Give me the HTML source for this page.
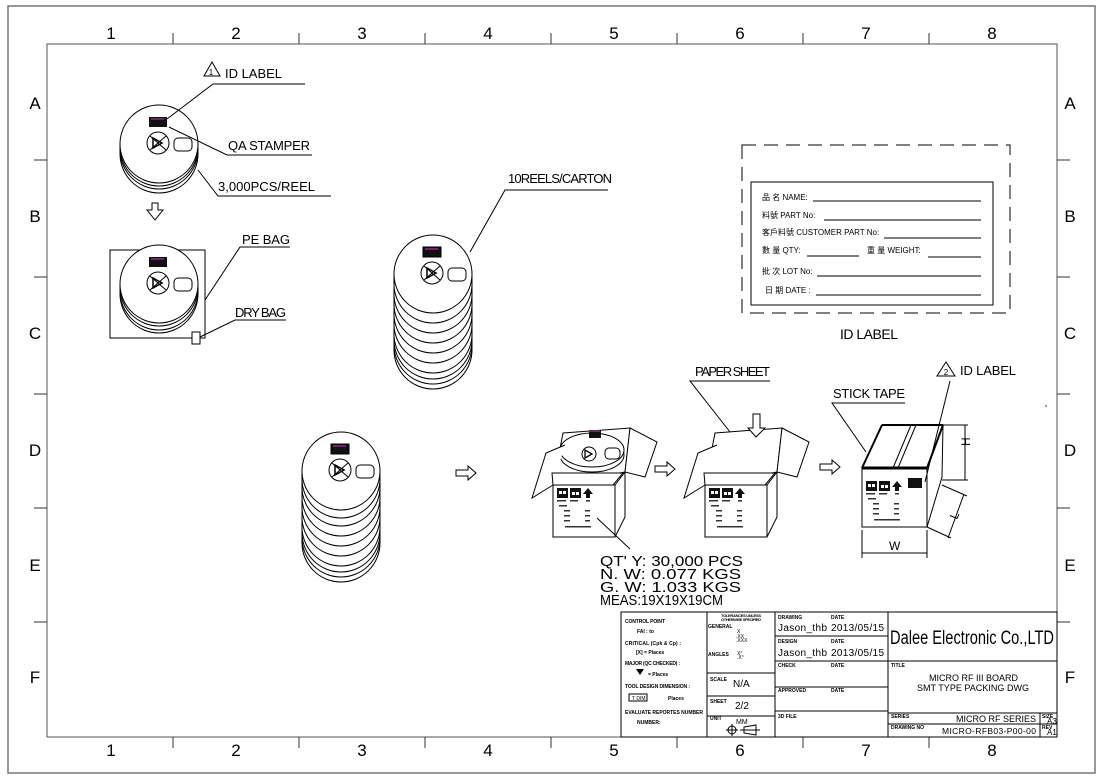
<!DOCTYPE html>
<html><head><meta charset="utf-8"><style>
html,body{margin:0;padding:0;background:#fff;}
svg{display:block;}
text{font-family:"Liberation Sans",sans-serif;fill:#000;}
.cjk{font-family:"Liberation Serif","Noto Serif CJK SC",serif;}
</style></head><body>
<svg width="1103" height="780" viewBox="0 0 1103 780" xmlns="http://www.w3.org/2000/svg">
<defs>
<g id="reeltop">
  <circle cx="0" cy="0" r="39" fill="#fff" stroke="#000" stroke-width="1"/>
  <rect x="-10" y="-27" width="18" height="10" fill="#111"/>
  <line x1="-8" y1="-25" x2="5" y2="-25" stroke="#c3c" stroke-width="1"/>
  <circle cx="-1" cy="-1" r="11" fill="none" stroke="#000"/>
  <line x1="-9" y1="-8" x2="7" y2="6" stroke="#000"/>
  <line x1="-9" y1="6" x2="7" y2="-8" stroke="#000"/>
  <path d="M-6,-6 L-6,4 L3,-1 Z" fill="none" stroke="#000" stroke-width="1.5"/>
  <rect x="15" y="-6" width="18" height="13" rx="4" fill="none" stroke="#000"/>
</g>
<g id="arcs">
  <path d="M-39,0 A39,39 0 0 0 39,0" fill="none" stroke="#000"/>
</g>
<g id="rarrow"><path d="M0,-3 L12,-3 L12,-7 L20,0 L12,7 L12,3 L0,3 Z" fill="#fff" stroke="#000"/></g>
<g id="boxfront">
  <rect x="2" y="3" width="11" height="10" fill="#111"/>
  <rect x="15" y="3" width="11" height="10" fill="#111"/>
  <path d="M28,9 L33,3 L38,9 L35,9 L35,13 L31,13 L31,9 Z" fill="#111"/>
  <rect x="4" y="6" width="3" height="3" fill="#fff"/><rect x="8" y="6" width="3" height="3" fill="#fff"/>
  <rect x="17" y="7" width="3" height="3" fill="#fff"/><rect x="21" y="7" width="3" height="3" fill="#fff"/>
  <g fill="#333"><rect x="2" y="15" width="9" height="1.5"/><rect x="15" y="15" width="8" height="1.5"/><rect x="31" y="15" width="4" height="1.5"/>
  <rect x="4" y="20" width="8" height="1.5"/><rect x="9" y="25" width="6" height="1.5"/><rect x="30" y="25" width="5" height="1.5"/>
  <rect x="9" y="30" width="6" height="1.5"/><rect x="30" y="30" width="5" height="1.5"/>
  <rect x="9" y="35" width="6" height="1.5"/><rect x="30" y="35" width="5" height="1.5"/>
  <rect x="10" y="41" width="26" height="1.5"/></g>
</g>
</defs>

<rect x="8" y="6" width="1087" height="767" fill="none" stroke="#777" stroke-width="1.5"/>
<rect x="47" y="44" width="1010" height="693" fill="none" stroke="#555" stroke-width="1"/>
<g stroke="#333">
<line x1="173" y1="33" x2="173" y2="44"/><line x1="299" y1="33" x2="299" y2="44"/><line x1="425" y1="33" x2="425" y2="44"/><line x1="551" y1="33" x2="551" y2="44"/><line x1="677" y1="33" x2="677" y2="44"/><line x1="803" y1="33" x2="803" y2="44"/><line x1="929" y1="33" x2="929" y2="44"/>
<line x1="173" y1="737" x2="173" y2="748"/><line x1="299" y1="737" x2="299" y2="748"/><line x1="425" y1="737" x2="425" y2="748"/><line x1="551" y1="737" x2="551" y2="748"/><line x1="677" y1="737" x2="677" y2="748"/><line x1="803" y1="737" x2="803" y2="748"/><line x1="929" y1="737" x2="929" y2="748"/>
<line x1="34" y1="160" x2="47" y2="160"/><line x1="34" y1="277" x2="47" y2="277"/><line x1="34" y1="394" x2="47" y2="394"/><line x1="34" y1="508" x2="47" y2="508"/><line x1="34" y1="622" x2="47" y2="622"/>
<line x1="1057" y1="160" x2="1070" y2="160"/><line x1="1057" y1="277" x2="1070" y2="277"/><line x1="1057" y1="394" x2="1070" y2="394"/><line x1="1057" y1="508" x2="1070" y2="508"/><line x1="1057" y1="622" x2="1070" y2="622"/>
</g>
<g font-size="17" text-anchor="middle">
<text x="111" y="39">1</text><text x="236" y="39">2</text><text x="362" y="39">3</text><text x="488" y="39">4</text><text x="614" y="39">5</text><text x="740" y="39">6</text><text x="866" y="39">7</text><text x="992" y="39">8</text>
<text x="111" y="756">1</text><text x="236" y="756">2</text><text x="362" y="756">3</text><text x="488" y="756">4</text><text x="614" y="756">5</text><text x="740" y="756">6</text><text x="866" y="756">7</text><text x="992" y="756">8</text>
<text x="35" y="109">A</text><text x="35" y="222">B</text><text x="35" y="339">C</text><text x="35" y="456">D</text><text x="35" y="571">E</text><text x="35" y="683">F</text>
<text x="1070" y="109">A</text><text x="1070" y="222">B</text><text x="1070" y="339">C</text><text x="1070" y="456">D</text><text x="1070" y="571">E</text><text x="1070" y="683">F</text>
</g>

<g transform="translate(159,144)">
 <use href="#arcs" y="3"/><use href="#arcs" y="6"/><use href="#arcs" y="10"/>
 <line x1="-39" y1="0" x2="-39" y2="10" stroke="#000"/><line x1="39" y1="0" x2="39" y2="10" stroke="#000"/>
 <use href="#reeltop"/>
</g>
<g stroke="#000" fill="none">
<path d="M305,84 L213,84 L167,119"/><path d="M312,155 L227,155 L169,127"/><path d="M331,196 L218,196 L198,170"/>
<path d="M152,203 L152,210 L147,210 L155,220 L163,210 L158,210 L158,203 Z" fill="#fff"/>
</g>
<path d="M212,62 L220,76 L204,76 Z" fill="none" stroke="#000"/><text x="211" y="75" font-size="8" text-anchor="middle">1</text>
<text x="225" y="78" font-size="13" textLength="57">ID  LABEL</text>
<text x="228" y="150" font-size="13" textLength="82">QA  STAMPER</text>
<text x="218" y="191" font-size="13" textLength="97">3,000PCS/REEL</text>

<rect x="110" y="250" width="95" height="88" fill="none" stroke="#000"/>
<g transform="translate(159,284)">
 <use href="#arcs" y="3"/><use href="#arcs" y="7"/><use href="#arcs" y="10"/>
 <line x1="-39" y1="0" x2="-39" y2="10" stroke="#000"/><line x1="39" y1="0" x2="39" y2="10" stroke="#000"/>
 <use href="#reeltop"/>
</g>
<rect x="192" y="332" width="8" height="12" fill="#fff" stroke="#000"/>
<path d="M290,247 L240,247 L205,300" fill="none" stroke="#000"/>
<path d="M286,320 L235,320 L200,337" fill="none" stroke="#000"/>
<text x="242" y="244" font-size="13" textLength="48">PE  BAG</text>
<text x="235" y="317" font-size="13" textLength="51">DRY  BAG</text>

<g transform="translate(433,274)" stroke="#000">
 <use href="#arcs" y="10"/><use href="#arcs" y="20"/><use href="#arcs" y="30"/><use href="#arcs" y="40"/><use href="#arcs" y="50"/><use href="#arcs" y="60"/><use href="#arcs" y="66"/><use href="#arcs" y="71"/><use href="#arcs" y="76"/>
 <line x1="-39" y1="0" x2="-39" y2="76"/><line x1="39" y1="0" x2="39" y2="76"/>
 <use href="#reeltop"/>
</g>
<path d="M608,190 L505,190 L470,252" fill="none" stroke="#000"/>
<text x="508" y="183" font-size="13" textLength="104">10REELS/CARTON</text>

<g transform="translate(341,471)" stroke="#000">
 <use href="#arcs" y="8"/><use href="#arcs" y="16"/><use href="#arcs" y="26"/><use href="#arcs" y="36"/><use href="#arcs" y="46"/><use href="#arcs" y="56"/><use href="#arcs" y="62"/><use href="#arcs" y="67"/><use href="#arcs" y="72"/>
 <line x1="-39" y1="0" x2="-39" y2="72"/><line x1="39" y1="0" x2="39" y2="72"/>
 <use href="#reeltop"/>
</g>
<use href="#rarrow" x="456" y="473"/>

<g fill="#fff" stroke="#000" stroke-width="1">
 <path d="M563,433 L630,428 L625,472 L553,485 Z"/>
 <path d="M630,428 L657,442 L645,477 L625,472 Z"/>
 <ellipse cx="592" cy="455" rx="32" ry="17"/>
 <ellipse cx="592" cy="450" rx="32" ry="17"/>
 <path d="M553,485 L532,498 L546,453 L565,445"/>
 <path d="M552,473 L623,473 L613,485 L553,485 Z"/>
 <rect x="553" y="485" width="62" height="52"/>
 <path d="M615,485 L625,472 L625,517 L615,537 Z"/>
</g>
<rect x="589" y="430" width="12" height="8" fill="#111"/><line x1="589" y1="431" x2="600" y2="431" stroke="#c3c"/>
<circle cx="589" cy="454" r="7" fill="none" stroke="#000"/><path d="M585,450 L585,458 L592,454 Z" fill="none" stroke="#000" stroke-width="1.3"/>
<rect x="605" y="448" width="15" height="11" rx="4" fill="none" stroke="#000"/>
<use href="#boxfront" x="555" y="485"/>
<path d="M597,518 L630,549" stroke="#000"/>
<use href="#rarrow" x="655" y="469"/>

<g fill="#fff" stroke="#000">
 <path d="M715,433 L782,428 L777,472 L705,485 Z"/>
 <path d="M782,428 L809,442 L797,477 L777,472 Z"/>
 <path d="M705,485 L684,498 L698,453 L717,445"/>
 <path d="M704,473 L775,473 L765,485 L705,485 Z"/>
 <rect x="705" y="485" width="62" height="52"/>
 <path d="M767,485 L777,472 L777,517 L767,537 Z"/>
 <path d="M753,414 L760,414 L760,428 L765,428 L756,437 L748,428 L753,428 Z"/>
</g>
<use href="#boxfront" x="707" y="485"/>
<path d="M770,381 L690,381 L730,432" fill="none" stroke="#000"/>
<text x="695" y="376" font-size="13" textLength="75">PAPER  SHEET</text>
<use href="#rarrow" x="820" y="467"/>

<g fill="#fff" stroke="#000">
 <path d="M882,425 L943,425 L927,468 L862,468 Z"/>
 <path d="M927,468 L943,425 L942,477 L927,527 Z"/>
 <rect x="862" y="468" width="65" height="59"/>
</g>
<g stroke="#000" fill="none">
 <path d="M911,425 L893,468 M916,425 L898,468"/>
 <path d="M862,468 L927,468" stroke-width="3"/>
 <path d="M882,425 L862,468" stroke-width="2"/><path d="M943,425 L927,468" stroke-width="2"/>
 <path d="M882,425 L943,425" stroke-width="2"/>
</g>
<rect x="908" y="478" width="14" height="10" fill="#111"/>
<use href="#boxfront" x="864" y="478"/>
<g stroke="#000" fill="none">
 <path d="M943,425 L968,425 M942,480 L968,480 M965,425 L965,480"/>
 <path d="M862,530 L862,558 M927,530 L927,558 M862,553 L927,553"/>
 <path d="M942,485 L967,496 M927,527 L951,538 M964,494 L948,538"/>
 <path d="M905,403 L832,403 L866,452"/>
 <path d="M950,381 L925,482"/>
</g>
<text x="0" y="0" font-size="12" transform="translate(970,446) rotate(-90)">H</text>
<text x="0" y="0" font-size="12" transform="translate(957,520) rotate(-68)">L</text>
<text x="889" y="550" font-size="12">W</text>
<text x="833" y="398" font-size="13" textLength="72">STICK  TAPE</text>
<path d="M946,362 L955,376 L937,376 Z" fill="none" stroke="#000"/><text x="946" y="375" font-size="8" text-anchor="middle">2</text>
<text x="960" y="375" font-size="13" textLength="56">ID  LABEL</text>
<circle cx="1046" cy="406" r="0.7" fill="#000"/>

<g font-size="15">
<text x="600" y="566" textLength="143" lengthAdjust="spacingAndGlyphs">QT' Y:  30,000  PCS</text>
<text x="600" y="579" textLength="141" lengthAdjust="spacingAndGlyphs">N.  W:     0.077  KGS</text>
<text x="600" y="592" textLength="141" lengthAdjust="spacingAndGlyphs">G.  W:     1.033  KGS</text>
<text x="600" y="605" textLength="123" lengthAdjust="spacingAndGlyphs">MEAS:19X19X19CM</text>
</g>

<rect x="742" y="145" width="268" height="168" fill="none" stroke="#000" stroke-dasharray="14,8"/>
<rect x="751" y="182" width="242" height="123" fill="none" stroke="#000"/>
<g class="cjk" font-size="8" fill="#333">
<text x="762" y="200">品 名 NAME:</text>
<text x="762" y="218">料號 PART No:</text>
<text x="762" y="235">客戶料號 CUSTOMER PART No:</text>
<text x="762" y="253">數 量 QTY:</text>
<text x="867" y="253">重 量 WEIGHT:</text>
<text x="762" y="274">批 次 LOT No:</text>
<text x="765" y="293">日 期 DATE :</text>
</g>
<g stroke="#000">
<line x1="813" y1="201" x2="981" y2="201"/><line x1="824" y1="220" x2="981" y2="220"/>
<line x1="884" y1="238" x2="981" y2="238"/><line x1="807" y1="256" x2="859" y2="256"/>
<line x1="928" y1="257" x2="981" y2="257"/><line x1="817" y1="276" x2="981" y2="276"/>
<line x1="816" y1="295" x2="981" y2="295"/>
</g>
<text x="840" y="339" font-size="14" textLength="58">ID  LABEL</text>

<g stroke="#000" fill="none">
<rect x="621" y="612" width="436" height="125"/>
<line x1="707" y1="612" x2="707" y2="737"/><line x1="775" y1="612" x2="775" y2="737"/><line x1="888" y1="612" x2="888" y2="737"/>
<line x1="775" y1="636" x2="888" y2="636"/><line x1="775" y1="661" x2="888" y2="661"/><line x1="775" y1="687" x2="888" y2="687"/><line x1="775" y1="711" x2="888" y2="711"/>
<line x1="707" y1="673" x2="775" y2="673"/><line x1="707" y1="696" x2="775" y2="696"/><line x1="707" y1="716" x2="775" y2="716"/>
<line x1="888" y1="661" x2="1057" y2="661"/><line x1="888" y1="713" x2="1057" y2="713"/><line x1="888" y1="724" x2="1057" y2="724"/>
<line x1="1040" y1="713" x2="1040" y2="737"/>
</g>
<g font-size="5" font-weight="bold">
<text x="625" y="623" textLength="40">CONTROL  POINT</text>
<text x="637" y="633">FAI :        to</text>
<text x="625" y="645" textLength="56">CRITICAL (Cpk &amp; Cp) :</text>
<text x="636" y="654">[X] =             Places</text>
<text x="625" y="665" textLength="55">MAJOR (QC CHECKED) :</text>
<text x="648" y="676">=             Places</text>
<text x="625" y="688" textLength="65">TOOL DESIGN DIMENSION :</text>
<text x="668" y="700">Places</text>
<text x="625" y="714" textLength="78">EVALUATE REPORTES NUMBER</text>
<text x="637" y="724">NUMBER:</text>
<text x="721" y="617" textLength="40" font-size="4">TOLERANCES UNLESS</text>
<text x="721" y="621" textLength="40" font-size="4">OTHERWISE SPECIFIED</text>
<text x="708" y="628">GENERAL</text>
<text x="708" y="656">ANGLES</text>
<text x="710" y="681">SCALE</text><text x="710" y="703">SHEET</text><text x="710" y="720">UNIT</text>
<text x="778" y="619">DRAWING</text><text x="831" y="619">DATE</text>
<text x="778" y="643">DESIGN</text><text x="831" y="643">DATE</text>
<text x="778" y="667">CHECK</text><text x="831" y="667">DATE</text>
<text x="778" y="692">APPROVED</text><text x="831" y="692">DATE</text>
<text x="778" y="718">3D FILE</text>
<text x="891" y="667">TITLE</text>
<text x="891" y="718">SERIES</text><text x="891" y="729">DRAWING NO</text>
<text x="1042" y="718">SIZE</text><text x="1042" y="729">REV</text>
</g>
<path d="M636,669 L644,669 L640,675 Z" fill="#000"/>
<rect x="629" y="694" width="18" height="7" fill="none" stroke="#000"/><text x="632" y="700" font-size="5">T DIM</text>
<g font-size="5"><text x="737" y="633">X</text><text x="736" y="638">.XX</text><text x="736" y="642">.XXX</text><text x="737" y="655">X°</text><text x="737" y="659">.X°</text></g>
<g font-size="10" font-family="'DejaVu Sans Mono','Liberation Mono',monospace">
<text x="733" y="687">N/A</text><text x="735" y="709">2/2</text><text x="736" y="724" font-size="7">MM</text>
<text x="778" y="631" textLength="49">Jason_thb</text><text x="831" y="631" textLength="53">2013/05/15</text>
<text x="778" y="656" textLength="49">Jason_thb</text><text x="831" y="656" textLength="53">2013/05/15</text>
<text x="929" y="681" font-size="9" textLength="89">MICRO RF III BOARD</text>
<text x="917" y="691" font-size="9" textLength="112">SMT TYPE PACKING DWG</text>
<text x="956" y="722" font-size="9" textLength="80">MICRO RF SERIES</text>
<text x="942" y="734" font-size="8.5" textLength="94">MICRO-RFB03-P00-00</text>
<text x="1047" y="724" font-size="8">A3</text><text x="1047" y="735" font-size="8">A1</text>
</g>
<text x="890" y="644" font-size="19" textLength="164" lengthAdjust="spacingAndGlyphs">Dalee Electronic Co.,LTD</text>
<g stroke="#000" fill="none">
<circle cx="732" cy="730" r="4"/><line x1="726" y1="730" x2="738" y2="730"/><line x1="732" y1="724" x2="732" y2="736"/>
<path d="M744,727 L756,725 L756,735 L744,733 Z M740,730 L760,730"/>
</g>
</svg>
</body></html>
